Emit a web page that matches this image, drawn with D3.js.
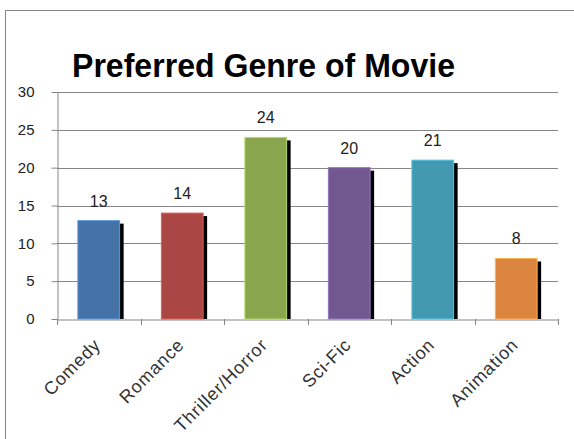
<!DOCTYPE html>
<html><head><meta charset="utf-8">
<script src="https://cdn.jsdelivr.net/npm/d3@7"></script>
<style>body{margin:0;background:#fff;}svg{display:block;}</style>
</head><body>
<script>
const categories = ["Comedy","Romance","Thriller/Horror","Sci-Fic","Action","Animation"];
const values = [13,14,24,20,21,8];
const colors = ["#4572A7","#AA4643","#89A54E","#71588F","#4198AF","#DB843D"];
const yTicks = [0,5,10,15,20,25,30];
const title = "Preferred Genre of Movie";

const W=574,H=439;
const svg=d3.select("body").append("svg").attr("width",W).attr("height",H);
svg.append("rect").attr("x",5.5).attr("y",10.5).attr("width",600).attr("height",500)
  .attr("fill","#fff").attr("stroke","#868686").attr("stroke-width",1);

const m={l:57,r:558,t:92,b:319};
const x=d3.scaleBand().domain(categories).range([m.l,m.r]).paddingInner(0.5).paddingOuter(0.25);
const y=d3.scaleLinear().domain([0,30]).range([m.b,m.t]);
const font="'Century Gothic','Liberation Sans',Arial,sans-serif";

svg.append("text").attr("x",72).attr("y",77)
  .attr("font-family",font).attr("font-weight","bold").attr("font-size",34).attr("fill","#000")
  .attr("textLength",383).attr("lengthAdjust","spacingAndGlyphs")
  .text(title);

// gridlines
svg.append("g").selectAll("line").data(yTicks.filter(d=>d>0)).join("line")
  .attr("x1",m.l).attr("x2",m.r).attr("y1",d=>Math.round(y(d))+0.5).attr("y2",d=>Math.round(y(d))+0.5)
  .attr("stroke","#868686");

// y axis
const ya=svg.append("g").attr("transform",`translate(${m.l+0.5},0)`)
  .call(d3.axisLeft(y).tickValues(yTicks).tickSize(6).tickPadding(17).tickSizeOuter(0));
ya.select(".domain").attr("stroke","#868686");
ya.selectAll(".tick line").attr("stroke","#868686");
ya.selectAll(".tick text").attr("font-family",font).attr("font-size",15).attr("fill","#222");

// x axis
const xa=svg.append("g").attr("transform",`translate(0,${Math.round(y(0))+0.5})`)
  .call(d3.axisBottom(x).tickSize(0).tickFormat(""));
xa.select(".domain").attr("stroke","#868686");
const bounds=d3.range(categories.length+1).map(i=>m.l+i*(m.r-m.l)/categories.length);
svg.append("g").selectAll("line").data(bounds).join("line")
  .attr("x1",d=>Math.round(d)+0.5).attr("x2",d=>Math.round(d)+0.5)
  .attr("y1",y(0)).attr("y2",y(0)+6).attr("stroke","#868686");

// x labels
svg.append("g").selectAll("text").data(categories).join("text")
  .attr("transform",d=>`translate(${x(d)+x.bandwidth()/2+3},${y(0)+27}) rotate(-45)`)
  .attr("text-anchor","end").attr("font-family",font).attr("font-size",18).attr("fill","#333")
  .attr("letter-spacing",0.8)
  .text(d=>d);

// shadows
const data=categories.map((c,i)=>({c,v:values[i],col:colors[i]}));
svg.append("g").selectAll("rect").data(data).join("rect")
  .attr("x",d=>x(d.c)+4).attr("y",d=>y(d.v)+3).attr("width",x.bandwidth()).attr("height",d=>y(0)-y(d.v)-3)
  .attr("fill","#000");
// bars
svg.append("g").selectAll("rect").data(data).join("rect")
  .attr("x",d=>x(d.c)).attr("y",d=>y(d.v)).attr("width",x.bandwidth()).attr("height",d=>y(0)-y(d.v))
  .attr("fill",d=>d.col).attr("stroke",d=>d3.color(d.col).brighter(0.8)).attr("stroke-width",1);
// value labels
svg.append("g").selectAll("text").data(data).join("text")
  .attr("x",d=>x(d.c)+x.bandwidth()/2).attr("y",d=>y(d.v)-14)
  .attr("text-anchor","middle").attr("font-family",font).attr("font-size",16).attr("fill","#222")
  .text(d=>d.v);
</script>
</body></html>
